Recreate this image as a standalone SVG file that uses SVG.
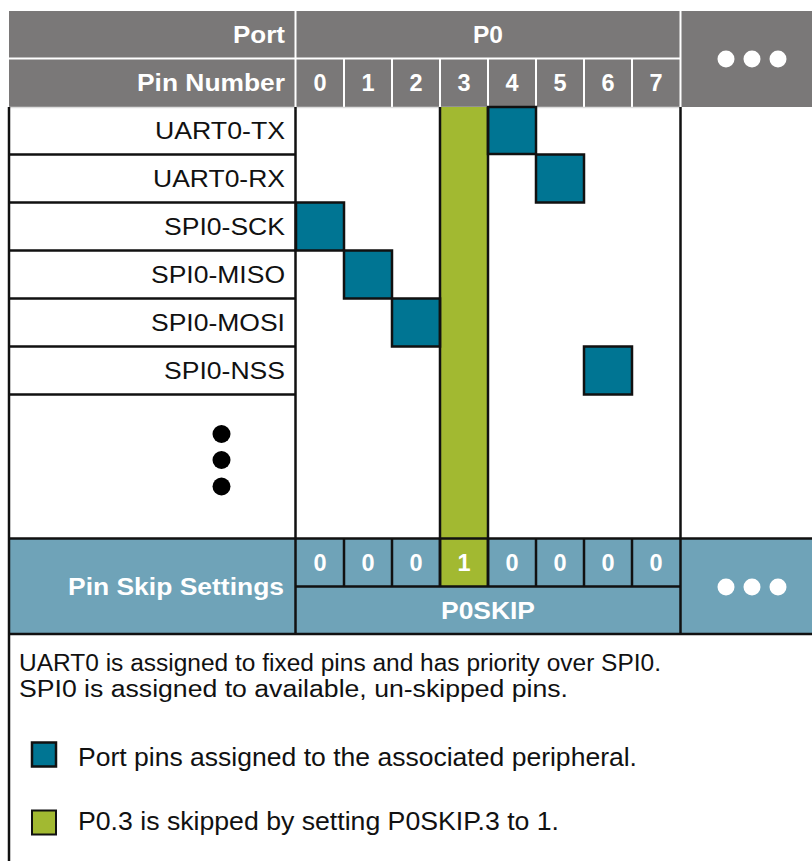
<svg xmlns="http://www.w3.org/2000/svg" width="812" height="861" viewBox="0 0 812 861">
<style>
.hdr{fill:#7a7878}
.skip{fill:#6fa3b8}
.hl{font-family:"Liberation Sans",Arial,sans-serif;font-weight:bold;font-size:23.5px;fill:#fff}
.lbl{font-family:"Liberation Sans",Arial,sans-serif;font-size:23.5px;fill:#111}
.lg{font-family:"Liberation Sans",Arial,sans-serif;font-size:26px;fill:#111}
.wl{stroke:#fff;stroke-width:2;fill:none}
.bl{stroke:#111;stroke-width:2.5;fill:none}
.blue{fill:#007593;stroke:#111;stroke-width:2.5}
.green{fill:#a2b931}
.wd{fill:#fff}
.kd{fill:#000}
</style>
<rect width="812" height="861" fill="#fff"/>
<g id="header">
<rect class="hdr" x="9" y="11" width="803" height="96"/>
<line class="wl" x1="295.5" y1="11" x2="295.5" y2="107"/>
<line class="wl" x1="680.5" y1="11" x2="680.5" y2="107"/>
<line class="wl" x1="9" y1="58.5" x2="680" y2="58.5"/>
<path class="wl" d="M344 59V107M392 59V107M440 59V107M488 59V107M536 59V107M584 59V107M632 59V107"/>
<line x1="9" y1="107.5" x2="680" y2="107.5" stroke="#ddd" stroke-width="1.5"/>
<text class="hl" x="285" y="43" text-anchor="end" textLength="52" lengthAdjust="spacingAndGlyphs">Port</text>
<text class="hl" x="285" y="91" text-anchor="end" textLength="148" lengthAdjust="spacingAndGlyphs">Pin Number</text>
<text class="hl" x="488" y="43" text-anchor="middle" textLength="30" lengthAdjust="spacingAndGlyphs">P0</text>
<g text-anchor="middle">
<text class="hl" x="320" y="91">0</text>
<text class="hl" x="368" y="91">1</text>
<text class="hl" x="416" y="91">2</text>
<text class="hl" x="464" y="91">3</text>
<text class="hl" x="512" y="91">4</text>
<text class="hl" x="560" y="91">5</text>
<text class="hl" x="608" y="91">6</text>
<text class="hl" x="656" y="91">7</text>
</g>
<circle class="wd" cx="726" cy="59" r="8.5"/>
<circle class="wd" cx="752" cy="59" r="8.5"/>
<circle class="wd" cx="778" cy="59" r="8.5"/>
</g>
<g id="skipcolumn">
<rect class="green" x="440" y="107" width="48" height="479"/>
</g>
<g id="rows">
<path class="bl" d="M9 154.5H295M9 202.5H295M9 250.5H295M9 298.5H295M9 346.5H295M9 394.5H295"/>
<text class="lbl" x="285" y="139" text-anchor="end" textLength="130" lengthAdjust="spacingAndGlyphs">UART0-TX</text>
<text class="lbl" x="285" y="187" text-anchor="end" textLength="132" lengthAdjust="spacingAndGlyphs">UART0-RX</text>
<text class="lbl" x="285" y="235" text-anchor="end" textLength="121" lengthAdjust="spacingAndGlyphs">SPI0-SCK</text>
<text class="lbl" x="285" y="283" text-anchor="end" textLength="134" lengthAdjust="spacingAndGlyphs">SPI0-MISO</text>
<text class="lbl" x="285" y="331" text-anchor="end" textLength="134" lengthAdjust="spacingAndGlyphs">SPI0-MOSI</text>
<text class="lbl" x="285" y="379" text-anchor="end" textLength="121" lengthAdjust="spacingAndGlyphs">SPI0-NSS</text>
<circle class="kd" cx="221.5" cy="434" r="9"/>
<circle class="kd" cx="221.5" cy="460" r="9"/>
<circle class="kd" cx="221.5" cy="486.5" r="9"/>
</g>
<g id="assignments">
<rect class="blue" x="488" y="107" width="48" height="47"/>
<rect class="blue" x="536" y="154.5" width="48" height="48"/>
<rect class="blue" x="296" y="202.5" width="48" height="48"/>
<rect class="blue" x="344" y="250.5" width="48" height="48"/>
<rect class="blue" x="392" y="298.5" width="48" height="48"/>
<rect class="blue" x="584" y="346.5" width="48" height="48"/>
</g>
<g id="pinskip">
<rect class="skip" x="9" y="538" width="803" height="96"/>
<rect class="green" x="440" y="538" width="48" height="48"/>
<text class="hl" x="284" y="595" text-anchor="end" textLength="216" lengthAdjust="spacingAndGlyphs">Pin Skip Settings</text>
<path class="bl" d="M296 586.5H680M344 538V586M392 538V586M440 538V586M488 538V586M536 538V586M584 538V586M632 538V586"/>
<g text-anchor="middle">
<text class="hl" x="320" y="571">0</text>
<text class="hl" x="368" y="571">0</text>
<text class="hl" x="416" y="571">0</text>
<text class="hl" x="464" y="571">1</text>
<text class="hl" x="512" y="571">0</text>
<text class="hl" x="560" y="571">0</text>
<text class="hl" x="608" y="571">0</text>
<text class="hl" x="656" y="571">0</text>
</g>
<text class="hl" x="488" y="619" text-anchor="middle" textLength="94" lengthAdjust="spacingAndGlyphs">P0SKIP</text>
<circle class="wd" cx="726" cy="587" r="8.5"/>
<circle class="wd" cx="752" cy="587" r="8.5"/>
<circle class="wd" cx="778" cy="587" r="8.5"/>
</g>
<g id="frame">
<line class="bl" x1="9" y1="107" x2="9" y2="861"/>
<line class="bl" x1="295.5" y1="107" x2="295.5" y2="634"/>
<line class="bl" x1="680.5" y1="107" x2="680.5" y2="634"/>
<line class="bl" x1="440" y1="107" x2="440" y2="586"/>
<line class="bl" x1="488" y1="107" x2="488" y2="586"/>
<line class="bl" x1="9" y1="538.5" x2="812" y2="538.5"/>
<line class="bl" x1="9" y1="634" x2="812" y2="634"/>
</g>
<g id="legend">
<text class="lbl" x="19" y="670.5" textLength="642" lengthAdjust="spacingAndGlyphs">UART0 is assigned to fixed pins and has priority over SPI0.</text>
<text class="lbl" x="19" y="697" textLength="549" lengthAdjust="spacingAndGlyphs">SPI0 is assigned to available, un-skipped pins.</text>
<rect class="blue" x="32" y="742.5" width="24" height="24" stroke-width="2"/>
<text class="lg" x="78" y="766" textLength="559" lengthAdjust="spacingAndGlyphs">Port pins assigned to the associated peripheral.</text>
<rect x="32" y="810.5" width="24" height="24" fill="#a2b931" stroke="#111" stroke-width="2"/>
<text class="lg" x="78" y="830" textLength="481" lengthAdjust="spacingAndGlyphs">P0.3 is skipped by setting P0SKIP.3 to 1.</text>
</g>
</svg>
